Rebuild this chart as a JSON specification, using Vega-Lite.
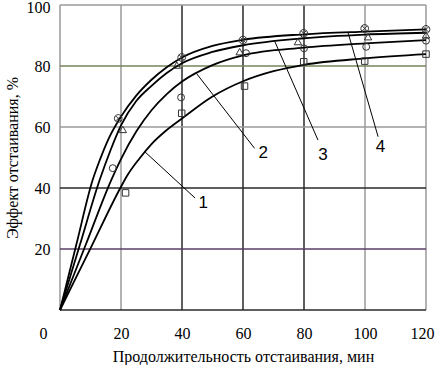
{
  "$schema": "https://vega.github.io/schema/vega-lite/v6.json",
  "width": 366,
  "height": 305,
  "autosize": "none",
  "padding": {"left": 60, "top": 5, "right": 10, "bottom": 55},
  "background": "white",
  "config": {
    "view": {"stroke": null},
    "axis": {"grid": false, "domain": false, "ticks": false, "labelFont": "Liberation Serif", "labelFontSize": 16, "labelColor": "#000", "titleFont": "Liberation Serif", "titleFontSize": 16, "titleFontWeight": "normal", "titleColor": "#000"}
  },
  "datasets": {
    "vgrid": [
      {"x": 0, "k": "light"}, {"x": 20, "k": "light"}, {"x": 40, "k": "dark"}, {"x": 60, "k": "dark"},
      {"x": 80, "k": "dark"}, {"x": 100, "k": "light"}, {"x": 120, "k": "light"}
    ],
    "hgrid": [
      {"y": 0, "k": "dark"}, {"y": 20, "k": "purple"}, {"y": 40, "k": "dark"}, {"y": 60, "k": "light"},
      {"y": 80, "k": "green"}, {"y": 100, "k": "light"}
    ],
    "curves": [
      {"s": "4", "x": 0, "y": 0}, {"s": "4", "x": 5.3, "y": 21.2}, {"s": "4", "x": 10.7, "y": 42.6}, {"s": "4", "x": 13.1, "y": 49.3}, {"s": "4", "x": 16, "y": 56.3}, {"s": "4", "x": 20, "y": 63.4}, {"s": "4", "x": 25, "y": 70.3}, {"s": "4", "x": 30, "y": 75.5}, {"s": "4", "x": 35, "y": 79.6}, {"s": "4", "x": 40, "y": 82.8}, {"s": "4", "x": 50, "y": 86.6}, {"s": "4", "x": 60, "y": 88.6}, {"s": "4", "x": 80, "y": 90.4}, {"s": "4", "x": 100, "y": 91.3}, {"s": "4", "x": 120, "y": 92},
      {"s": "3", "x": 0, "y": 0}, {"s": "3", "x": 6.5, "y": 21.3}, {"s": "3", "x": 13, "y": 42.6}, {"s": "3", "x": 16.5, "y": 52.2}, {"s": "3", "x": 20, "y": 60.5}, {"s": "3", "x": 25, "y": 68.5}, {"s": "3", "x": 30, "y": 73.5}, {"s": "3", "x": 35, "y": 77.7}, {"s": "3", "x": 40, "y": 80.9}, {"s": "3", "x": 50, "y": 84.6}, {"s": "3", "x": 60, "y": 86.8}, {"s": "3", "x": 80, "y": 89.1}, {"s": "3", "x": 100, "y": 90.3}, {"s": "3", "x": 120, "y": 90.9},
      {"s": "2", "x": 0, "y": 0}, {"s": "2", "x": 8.4, "y": 21.3}, {"s": "2", "x": 16.8, "y": 42.6}, {"s": "2", "x": 20, "y": 49.5}, {"s": "2", "x": 25, "y": 58.5}, {"s": "2", "x": 30, "y": 65.5}, {"s": "2", "x": 35, "y": 70.8}, {"s": "2", "x": 40, "y": 74.9}, {"s": "2", "x": 50, "y": 80.3}, {"s": "2", "x": 60, "y": 83.5}, {"s": "2", "x": 80, "y": 86}, {"s": "2", "x": 100, "y": 87.4}, {"s": "2", "x": 120, "y": 88.5},
      {"s": "1", "x": 0, "y": 0}, {"s": "1", "x": 10, "y": 20.2}, {"s": "1", "x": 20, "y": 40.4}, {"s": "1", "x": 22, "y": 44}, {"s": "1", "x": 26, "y": 49.6}, {"s": "1", "x": 30, "y": 54.4}, {"s": "1", "x": 35, "y": 59}, {"s": "1", "x": 40, "y": 62.8}, {"s": "1", "x": 50, "y": 70}, {"s": "1", "x": 60, "y": 75}, {"s": "1", "x": 70, "y": 78.3}, {"s": "1", "x": 80, "y": 80.4}, {"s": "1", "x": 100, "y": 82.5}, {"s": "1", "x": 120, "y": 83.9}
    ],
    "points": [
      {"s": "1", "x": 21.5, "y": 38.4}, {"s": "1", "x": 39.9, "y": 64.5}, {"s": "1", "x": 60.5, "y": 73.4}, {"s": "1", "x": 79.9, "y": 81.4}, {"s": "1", "x": 99.9, "y": 81.6}, {"s": "1", "x": 120, "y": 83.9},
      {"s": "2", "x": 17.3, "y": 46.5}, {"s": "2", "x": 39.7, "y": 69.7}, {"s": "2", "x": 61, "y": 84.2}, {"s": "2", "x": 80, "y": 85.8}, {"s": "2", "x": 100.4, "y": 86.3}, {"s": "2", "x": 120, "y": 88.3},
      {"s": "3", "x": 20.6, "y": 59.2}, {"s": "3", "x": 38.3, "y": 80.3}, {"s": "3", "x": 58.9, "y": 84.7}, {"s": "3", "x": 78, "y": 88}, {"s": "3", "x": 101, "y": 89.6}, {"s": "3", "x": 120, "y": 90.2},
      {"s": "4", "x": 19.1, "y": 62.8}, {"s": "4", "x": 39.9, "y": 82.8}, {"s": "4", "x": 60, "y": 88.5}, {"s": "4", "x": 79.9, "y": 90.7}, {"s": "4", "x": 99.9, "y": 92.3}, {"s": "4", "x": 120, "y": 92}
    ],
    "leaders": [
      {"x": 27.9, "y": 51.8, "x2": 44.3, "y2": 36.7},
      {"x": 44.8, "y": 77.5, "x2": 63.8, "y2": 53},
      {"x": 70.4, "y": 88.1, "x2": 84.6, "y2": 55.7},
      {"x": 94.4, "y": 91.1, "x2": 104.3, "y2": 56.8}
    ],
    "labels": [
      {"t": "1", "x": 47, "y": 35},
      {"t": "2", "x": 66.6, "y": 51.4},
      {"t": "3", "x": 86.2, "y": 50.8},
      {"t": "4", "x": 105.1, "y": 53.5}
    ]
  },
  "layer": [
    {
      "data": {"name": "vgrid"},
      "mark": {"type": "rule", "strokeWidth": 1.5},
      "encoding": {
        "x": {"field": "x", "type": "quantitative", "title": "Продолжительность отстаивания, мин",
          "scale": {"domain": [0, 120], "nice": false},
          "axis": {"values": [0, 20, 40, 60, 80, 100, 120], "labelPadding": 15, "titlePadding": 7, "labelFlush": false,
            "labelOffset": {"condition": [{"test": "datum.value === 0", "value": -17}, {"test": "datum.value === 120", "value": -4}], "value": 0}}},
        "color": {"field": "k", "type": "nominal", "legend": null,
          "scale": {"domain": ["light", "dark", "green", "purple"], "range": ["#9a9a9a", "#2a2a2a", "#74845a", "#5a3f66"]}}
      }
    },
    {
      "data": {"name": "hgrid"},
      "mark": {"type": "rule", "strokeWidth": 1.5},
      "encoding": {
        "y": {"field": "y", "type": "quantitative", "title": "Эффект отстаивания, %",
          "scale": {"domain": [0, 100], "nice": false},
          "axis": {"values": [20, 40, 60, 80, 100], "labelPadding": 10, "titlePadding": 6, "labelFlush": false,
            "labelOffset": {"condition": {"test": "datum.value === 100", "value": 2}, "value": 0}}},
        "color": {"field": "k", "type": "nominal", "legend": null}
      }
    },
    {
      "data": {"name": "curves"},
      "mark": {"type": "line", "interpolate": "monotone", "color": "#000", "strokeWidth": 1.8},
      "encoding": {
        "x": {"field": "x", "type": "quantitative", "title": "Продолжительность отстаивания, мин"},
        "y": {"field": "y", "type": "quantitative", "title": "Эффект отстаивания, %"},
        "detail": {"field": "s", "type": "nominal"}
      }
    },
    {
      "data": {"name": "leaders"},
      "mark": {"type": "rule", "color": "#000", "strokeWidth": 1},
      "encoding": {
        "x": {"field": "x", "type": "quantitative", "title": "Продолжительность отстаивания, мин"},
        "y": {"field": "y", "type": "quantitative", "title": "Эффект отстаивания, %"},
        "x2": {"field": "x2"},
        "y2": {"field": "y2"}
      }
    },
    {
      "data": {"name": "points"},
      "mark": {"type": "point", "filled": false, "stroke": "#333", "strokeWidth": 1, "opacity": 1},
      "encoding": {
        "x": {"field": "x", "type": "quantitative", "title": "Продолжительность отстаивания, мин"},
        "y": {"field": "y", "type": "quantitative", "title": "Эффект отстаивания, %"},
        "shape": {"field": "s", "type": "nominal", "legend": null,
          "scale": {"domain": ["1", "2", "3", "4"], "range": ["square", "circle", "triangle-up", "M-1,0A1,1 0 1,1 1,0A1,1 0 1,1 -1,0M-0.7,-0.7L0.7,0.7M-0.7,0.7L0.7,-0.7"]}},
        "size": {"field": "s", "type": "nominal", "legend": null,
          "scale": {"domain": ["1", "2", "3", "4"], "range": [42, 60, 45, 80]}}
      }
    },
    {
      "data": {"name": "labels"},
      "mark": {"type": "text", "font": "Liberation Sans", "fontSize": 17, "color": "#000", "align": "center", "baseline": "middle"},
      "encoding": {
        "x": {"field": "x", "type": "quantitative", "title": "Продолжительность отстаивания, мин"},
        "y": {"field": "y", "type": "quantitative", "title": "Эффект отстаивания, %"},
        "text": {"field": "t"}
      }
    }
  ]
}
